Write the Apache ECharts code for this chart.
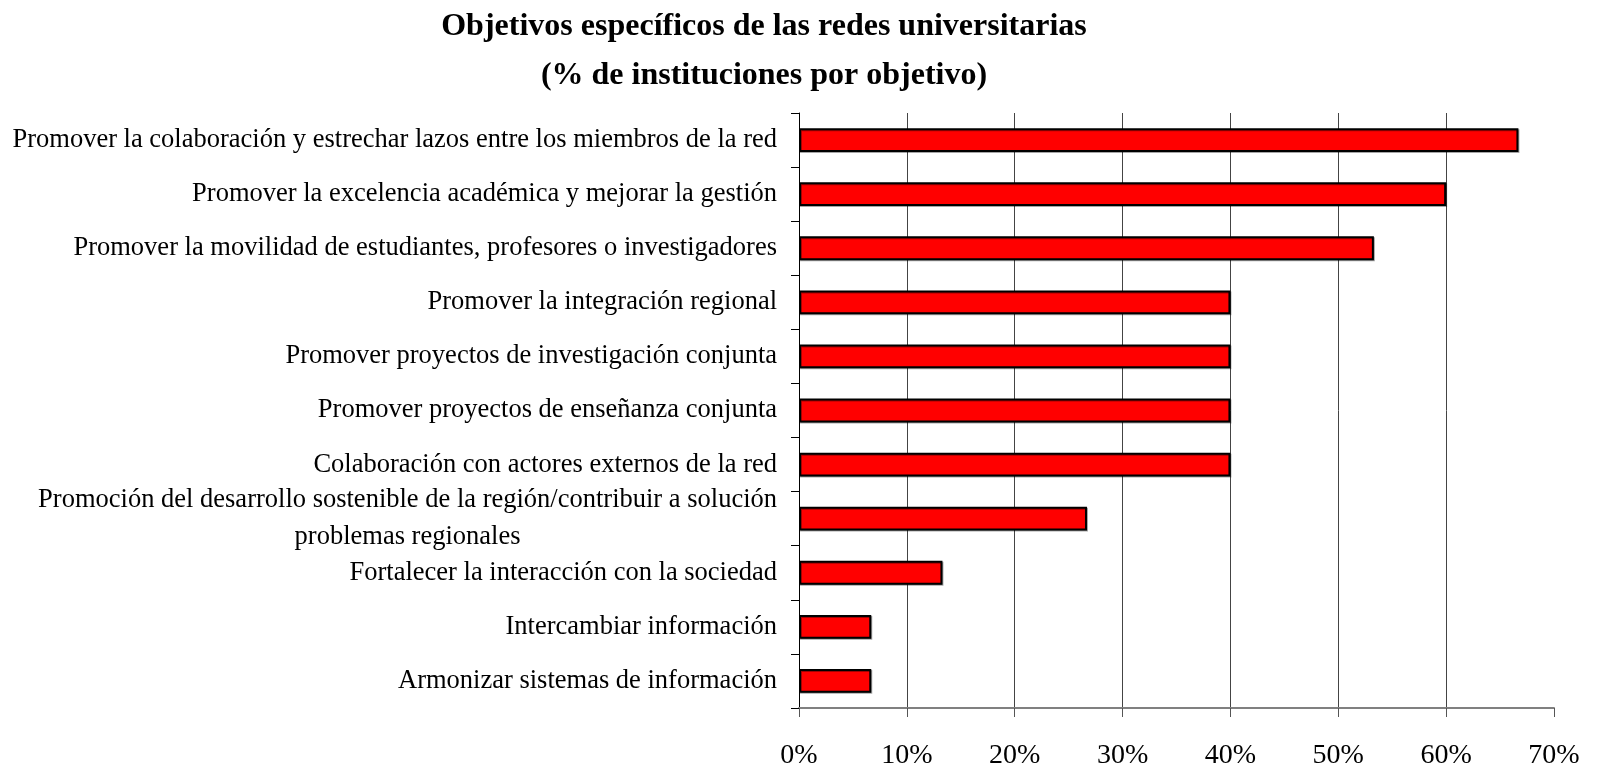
<!DOCTYPE html>
<html>
<head>
<meta charset="utf-8">
<script src="https://cdn.jsdelivr.net/npm/echarts@6/dist/echarts.min.js"></script>
<style>
  html, body { margin: 0; padding: 0; background: #fff; }
  #chart { width: 1597px; height: 766px; }
</style>
</head>
<body>
<div id="chart"></div>
<script>
// objetivos (de arriba hacia abajo)
var categories = [
    'Promover la colaboración y estrechar lazos entre los miembros de la red',
    'Promover la excelencia académica y mejorar la gestión',
    'Promover la movilidad de estudiantes, profesores o investigadores',
    'Promover la integración regional',
    'Promover proyectos de investigación conjunta',
    'Promover proyectos de enseñanza conjunta',
    'Colaboración con actores externos de la red',
    'Promoción del desarrollo sostenible de la región/contribuir a solución\nproblemas regionales',
    'Fortalecer la interacción con la sociedad',
    'Intercambiar información',
    'Armonizar sistemas de información'
];
// % de instituciones por objetivo
var values = [66.7, 60, 53.3, 40, 40, 40, 40, 26.7, 13.3, 6.7, 6.7];
var xTicks = [0, 10, 20, 30, 40, 50, 60, 70];

var serif = '"Liberation Serif", "Times New Roman", serif';
var chart = echarts.init(document.getElementById('chart'));

var option = {
    animation: false,
    title: {
        text: 'Objetivos específicos de las redes universitarias\n(% de instituciones por objetivo)',
        left: 759,
        top: -3,
        textAlign: 'center',
        textStyle: {
            fontFamily: serif,
            fontWeight: 'bold',
            fontSize: 32,
            lineHeight: 49,
            color: '#000'
        }
    },
    grid: {
        left: 799,
        right: 43,
        top: 113,
        bottom: 58,
        outerBoundsMode: 'none'
    },
    xAxis: {
        type: 'value',
        min: xTicks[0],
        max: xTicks[xTicks.length - 1],
        interval: 10,
        axisLine: { show: true, lineStyle: { color: '#808080', width: 2 } },
        axisTick: { show: true, length: 9, lineStyle: { color: '#555' } },
        axisLabel: {
            margin: 34,
            fontFamily: serif,
            fontSize: 28,
            color: '#000',
            formatter: '{value}%'
        },
        splitLine: {
            show: true,
            showMaxLine: false,
            lineStyle: { color: '#444', width: 1 }
        }
    },
    yAxis: {
        type: 'category',
        inverse: true,
        data: categories,
        axisLine: { show: true, lineStyle: { color: '#000', width: 1 } },
        axisTick: { show: true, length: 8, lineStyle: { color: '#000' } },
        axisLabel: {
            margin: 22,
            align: 'right',
            fontFamily: serif,
            fontSize: 26.5,
            color: '#000',
            formatter: function (v) {
                return v.split('\n').map(function (s) { return '{c|' + s + '}'; }).join('\n');
            },
            rich: {
                c: {
                    align: 'center',
                    fontFamily: serif,
                    fontSize: 26.5,
                    lineHeight: 37,
                    color: '#000'
                }
            }
        }
    },
    series: [{
        type: 'bar',
        data: values,
        barCategoryGap: '56%',
        itemStyle: {
            color: '#ff0000',
            borderColor: '#000',
            borderWidth: 2,
            shadowColor: 'rgba(0,0,0,0.35)',
            shadowOffsetX: 1,
            shadowOffsetY: 1
        }
    }]
};

chart.setOption(option);
</script>
</body>
</html>
